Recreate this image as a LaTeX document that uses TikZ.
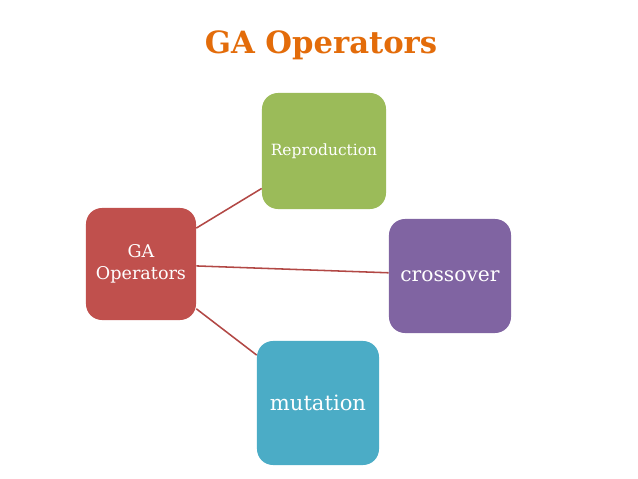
\documentclass[tikz,border=0pt]{standalone}
\usepackage{fontspec}
\setmainfont{DejaVu Serif}
\definecolor{titleorange}{HTML}{E36C0A}
\definecolor{boxred}{HTML}{C0504D}
\definecolor{boxgreen}{HTML}{9BBB59}
\definecolor{boxpurple}{HTML}{8064A2}
\definecolor{boxteal}{HTML}{4BACC6}
\definecolor{linkred}{HTML}{B24845}
\tikzset{
  opbox/.style={rounded corners=0.4cm, text=white, align=center, inner sep=0pt},
  link/.style={draw=linkred, line width=1.1pt}
}
\begin{document}
\begin{tikzpicture}[x=0.025cm, y=-0.025cm]
            % Fix the page size
            \useasboundingbox (0,0) rectangle (638,479);

            % Title
            \node[text=titleorange, font=\bfseries\fontsize{21.8}{26}\selectfont] (title) at (321,45) {GA Operators};

            % Draw the boxes
            \node[opbox, fill=boxred, minimum width=2.75cm, minimum height=2.8cm,
                  font=\fontsize{12.5}{15.6}\selectfont] (ga) at (141,264) {GA\\Operators};
            \node[opbox, fill=boxgreen, minimum width=3.1cm, minimum height=2.9cm,
                  font=\fontsize{11}{13}\selectfont] (repro) at (324,151) {Reproduction};
            \node[opbox, fill=boxpurple, minimum width=3.05cm, minimum height=2.85cm,
                  font=\fontsize{14.4}{17}\selectfont] (cross) at (450,276) {crossover};
            \node[opbox, fill=boxteal, minimum width=3.05cm, minimum height=3.1cm,
                  font=\fontsize{15}{18}\selectfont] (mut) at (318,403) {mutation};

            % Connect them
            \draw[link] (ga.33) -- (repro.211);
            \draw[link] (ga.-2) -- (cross.177);
            \draw[link] (ga.-39) -- (mut.142);
        \end{tikzpicture}
\end{document}
